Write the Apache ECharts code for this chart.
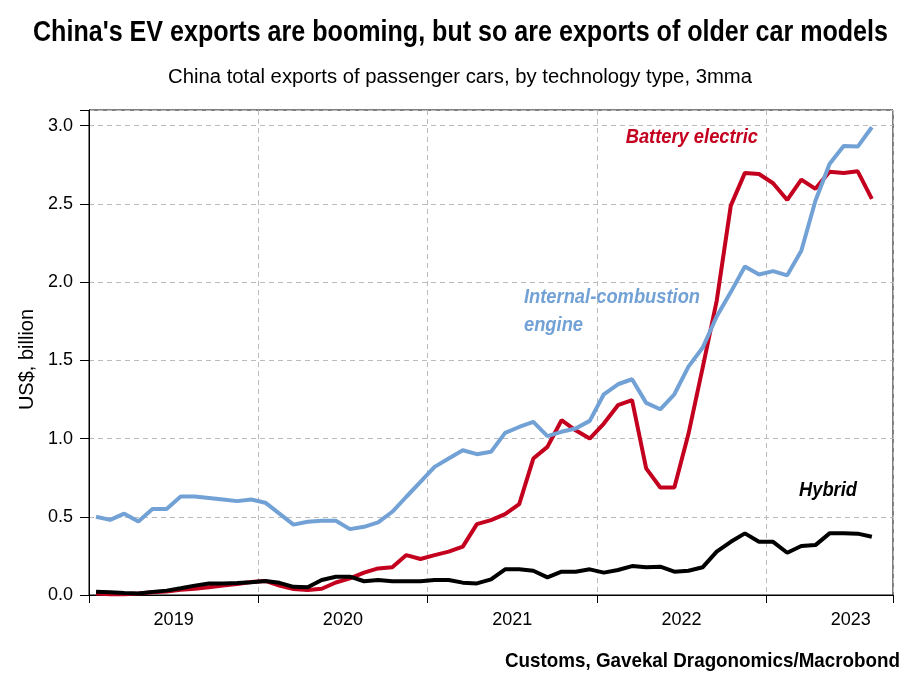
<!DOCTYPE html>
<html>
<head>
<meta charset="utf-8">
<script src="https://cdn.jsdelivr.net/npm/echarts@6/dist/echarts.min.js"></script>
<style>
html,body{margin:0;padding:0;background:#fff;}
#chart{width:919px;height:674px;}
</style>
</head>
<body>
<div id="chart"></div>
<script>
// Monthly data, 3-month moving average, US$ billion
const months = [
  '2019-01','2019-02','2019-03','2019-04','2019-05','2019-06','2019-07','2019-08','2019-09','2019-10','2019-11','2019-12',
  '2020-01','2020-02','2020-03','2020-04','2020-05','2020-06','2020-07','2020-08','2020-09','2020-10','2020-11','2020-12',
  '2021-01','2021-02','2021-03','2021-04','2021-05','2021-06','2021-07','2021-08','2021-09','2021-10','2021-11','2021-12',
  '2022-01','2022-02','2022-03','2022-04','2022-05','2022-06','2022-07','2022-08','2022-09','2022-10','2022-11','2022-12',
  '2023-01','2023-02','2023-03','2023-04','2023-05','2023-06','2023-07','2023-08'
];
const iceValues = [
  0.50,0.48,0.52,0.47,0.55,0.55,0.63,0.63,0.62,0.61,0.60,0.61,
  0.59,0.52,0.45,0.468,0.474,0.474,0.421,0.436,0.464,0.532,0.628,0.723,
  0.819,0.872,0.925,0.90,0.915,1.036,1.074,1.106,1.015,1.043,1.064,1.113,
  1.283,1.347,1.379,1.228,1.187,1.283,1.46,1.58,1.78,1.936,2.10,2.049,
  2.07,2.043,2.20,2.52,2.755,2.87,2.866,2.99
];
const bevValues = [
  0.01,0.005,0.005,0.01,0.018,0.023,0.034,0.04,0.05,0.06,0.07,0.083,
  0.09,0.06,0.038,0.032,0.04,0.08,0.106,0.143,0.17,0.177,0.255,0.23,
  0.255,0.277,0.309,0.453,0.479,0.517,0.581,0.872,0.947,1.117,1.053,1.0,
  1.096,1.213,1.245,0.809,0.687,0.687,1.03,1.45,1.88,2.489,2.698,2.691,
  2.632,2.525,2.655,2.596,2.706,2.698,2.708,2.532
];
const hybridValues = [
  0.021,0.018,0.013,0.01,0.02,0.028,0.043,0.06,0.074,0.074,0.076,0.081,
  0.09,0.078,0.052,0.049,0.096,0.117,0.117,0.088,0.096,0.088,0.088,0.088,
  0.096,0.096,0.079,0.074,0.100,0.164,0.164,0.155,0.113,0.149,0.149,0.164,
  0.143,0.16,0.185,0.177,0.181,0.149,0.155,0.177,0.277,0.34,0.394,0.34,
  0.34,0.27,0.313,0.319,0.394,0.394,0.392,0.372
];
const yearLabels = ['2019','2020','2021','2022','2023'];
const yTicks = [0.0,0.5,1.0,1.5,2.0,2.5,3.0];

const firstYear = 2019;
function monthPos(m){ // month index, plotted mid-month
  const [y, mo] = m.split('-').map(Number);
  return (y - firstYear) * 12 + (mo - 1) + 0.5;
}
function toSeries(vals){ return months.map((m,i)=>[monthPos(m), vals[i]]); }

const sans = '"Liberation Sans",Arial,sans-serif';
const ctx = document.createElement('canvas').getContext('2d');
function fit(text, font, target){
  ctx.font = font;
  const w = Math.max.apply(null, text.split('\n').map(t=>ctx.measureText(t).width));
  return target / w;
}

const titleText = "China's EV exports are booming, but so are exports of older car models";
const subText = 'China total exports of passenger cars, by technology type, 3mma';
const srcText = 'Customs, Gavekal Dragonomics/Macrobond';
const titleFont = 'bold 29px ' + sans;
const subFont = '20px ' + sans;
const srcFont = 'bold 21px ' + sans;
const annFont = 'italic bold 21px ' + sans;
const annScale = fit('Internal-combustion', annFont, 176);

const chart = echarts.init(document.getElementById('chart'));
const option = {
  backgroundColor:'#fff',
  animation:false,
  grid:{left:89,right:26,top:110,bottom:79,show:true,borderColor:'#000',borderWidth:1,backgroundColor:'transparent'},
  xAxis:[{
    type:'value',min:0,max:57,interval:12,
    axisLine:{show:true,lineStyle:{color:'#000',width:1}},
    axisTick:{show:true,length:8,lineStyle:{color:'#000'}},
    axisLabel:{show:false},
    splitLine:{show:true,lineStyle:{color:'#bbb',type:[5,4],width:1}}
  },{
    type:'value',min:0,max:57,interval:6,position:'bottom',offset:0,
    axisLine:{show:false},axisTick:{show:false},splitLine:{show:false},
    axisLabel:{show:true,margin:16,fontSize:18,color:'#000',fontFamily:sans,
      formatter:function(v){ const k=Math.round(v); return (k%12===6)? yearLabels[(k-6)/12]||'' : ''; }}
  }],
  yAxis:{
    type:'value',min:0,max:3.1,interval:0.5,
    name:'US$, billion',nameLocation:'middle',nameRotate:90,nameGap:50,
    nameTextStyle:{fontSize:20,color:'#000',fontFamily:sans,padding:[0,14,0,0]},
    axisLine:{show:true,lineStyle:{color:'#000',width:1}},
    axisTick:{show:true,length:9,lineStyle:{color:'#000'}},
    axisLabel:{margin:16,fontSize:18,color:'#000',fontFamily:sans,
      formatter:function(v){ return yTicks.some(t=>Math.abs(t-v)<1e-6) ? v.toFixed(1) : ''; }},
    splitLine:{show:true,lineStyle:{color:'#bbb',type:[5,4],width:1}}
  },
  series:[
    {name:'Battery electric',type:'line',xAxisIndex:0,data:toSeries(bevValues),showSymbol:false,
      lineStyle:{color:'#c4001f',width:4},itemStyle:{color:'#c4001f'},z:2},
    {name:'Internal-combustion engine',type:'line',xAxisIndex:0,data:toSeries(iceValues),showSymbol:false,
      lineStyle:{color:'#72a1d5',width:4},itemStyle:{color:'#72a1d5'},z:3},
    {name:'Hybrid',type:'line',xAxisIndex:0,data:toSeries(hybridValues),showSymbol:false,
      lineStyle:{color:'#000',width:4},itemStyle:{color:'#000'},z:4}
  ],
  graphic:[
    {type:'text',x:460.5,y:33,scaleX:fit(titleText,titleFont,855),
      style:{text:titleText,font:titleFont,fill:'#000',align:'center',verticalAlign:'middle'}},
    {type:'text',x:460,y:77,scaleX:fit(subText,subFont,584),
      style:{text:subText,font:subFont,fill:'#000',align:'center',verticalAlign:'middle'}},
    {type:'text',x:900,y:661,scaleX:fit(srcText,srcFont,395),
      style:{text:srcText,font:srcFont,fill:'#000',align:'right',verticalAlign:'middle'}},
    {type:'text',x:758,y:137,scaleX:annScale,
      style:{text:'Battery electric',font:annFont,fill:'#c4001f',align:'right',verticalAlign:'middle'}},
    {type:'text',x:524,y:297,scaleX:annScale,
      style:{text:'Internal-combustion',font:annFont,fill:'#72a1d5',align:'left',verticalAlign:'middle'}},
    {type:'text',x:524,y:325,scaleX:annScale,
      style:{text:'engine',font:annFont,fill:'#72a1d5',align:'left',verticalAlign:'middle'}},
    {type:'text',x:857,y:490,scaleX:annScale,
      style:{text:'Hybrid',font:annFont,fill:'#000',align:'right',verticalAlign:'middle'}}
  ]
};
chart.setOption(option);
</script>
</body>
</html>
